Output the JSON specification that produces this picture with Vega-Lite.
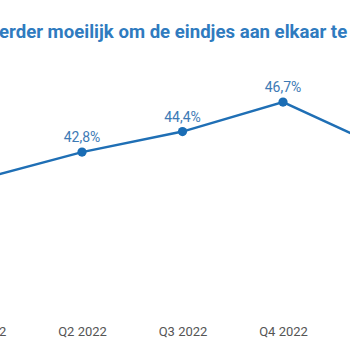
{
  "$schema": "https://vega.github.io/schema/vega-lite/v6.json",
  "width": 350,
  "height": 270,
  "autosize": {"type": "none"},
  "padding": {"top": 45, "left": 0, "right": 0, "bottom": 35},
  "background": "white",
  "title": {
    "text": "erder moeilijk om de eindjes aan elkaar te",
    "anchor": "start",
    "frame": "group",
    "baseline": "top",
    "offset": 0,
    "dx": -1,
    "dy": -3,
    "limit": 2000,
    "font": "Roboto",
    "fontSize": 18.6,
    "fontWeight": "bold",
    "color": "#2f7bbf"
  },
  "config": {
    "view": {"stroke": null},
    "locale": {"number": {"decimal": ",", "thousands": ".", "grouping": [3], "currency": ["€", ""]}}
  },
  "data": {
    "values": [
      {"kwartaal": "Q1 2022", "aandeel": 0.407},
      {"kwartaal": "Q2 2022", "aandeel": 0.428},
      {"kwartaal": "Q3 2022", "aandeel": 0.444},
      {"kwartaal": "Q4 2022", "aandeel": 0.467},
      {"kwartaal": "Q1 2023", "aandeel": 0.431}
    ]
  },
  "encoding": {
    "x": {
      "field": "kwartaal",
      "type": "ordinal",
      "sort": null,
      "scale": {"type": "point", "range": [-18.5, 383.5], "padding": 0},
      "axis": {
        "title": null,
        "domain": false,
        "ticks": false,
        "grid": false,
        "labelAngle": 0,
        "labelFont": "Roboto",
        "labelFontSize": 13,
        "labelColor": "#555555",
        "labelPadding": 10,
        "labelOverlap": false,
        "labelBound": false,
        "labelFlush": false
      }
    },
    "y": {
      "field": "aandeel",
      "type": "quantitative",
      "scale": {"domain": [0.301, 0.5115], "zero": false, "nice": false},
      "axis": null
    }
  },
  "layer": [
    {"mark": {"type": "line", "color": "#1f6fb5", "strokeWidth": 2.5, "clip": false}},
    {"mark": {"type": "circle", "color": "#1a6db5", "size": 85, "opacity": 1}},
    {
      "mark": {"type": "text", "baseline": "alphabetic", "dy": -10, "font": "Roboto", "fontSize": 14, "color": "#3d7ab5"},
      "encoding": {"text": {"field": "aandeel", "type": "quantitative", "format": ".1%"}}
    }
  ]
}
